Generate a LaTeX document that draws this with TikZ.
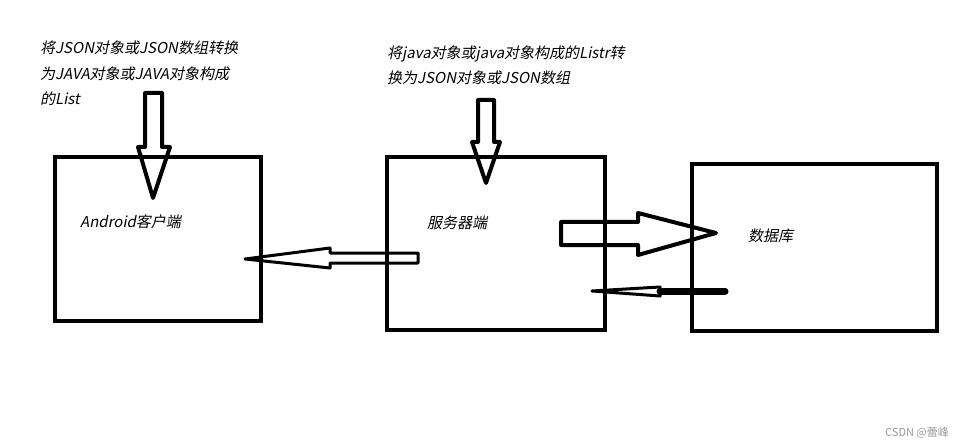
\documentclass[tikz,border=0pt]{standalone}
\usepackage{fontspec}
\setmainfont{Noto Sans CJK SC}[FakeSlant=0.2]
\newfontfamily\wmfont{Noto Sans CJK SC}
\usetikzlibrary{calc}

\begin{document}
\begin{tikzpicture}[x=1pt,y=-1pt]
      \tikzstyle{box}=[draw=black, line width=4pt, inner sep=0pt, anchor=center]
      \tikzstyle{label}=[inner sep=0pt, anchor=base west, align=left, font=\fontsize{15}{25.5}\selectfont]
      \tikzstyle{barrow}=[draw=black, line width=4pt, line join=round]
      \tikzstyle{watermark}=[inner sep=0pt, anchor=base west, text=black!40, font=\wmfont\fontsize{11}{13}\selectfont]
      \useasboundingbox (0,0) rectangle (968,446);

      \node[box, minimum width=206pt, minimum height=164pt] (client) at (158,239) {};
      \node[box, minimum width=218pt, minimum height=173pt] (server) at (496,243.5) {};
      \node[box, minimum width=245pt, minimum height=167pt] (db) at (814.5,247.5) {};

      \node[label] (t1) at (40,105) {将JSON对象或JSON数组转换\\为JAVA对象或JAVA对象构成\\的List};
      \node[label] (t2) at (387,84) {将java对象或java对象构成的Listr转\\换为JSON对象或JSON数组};
      \node[label] (clientlabel) at (80,228) {Android客户端};
      \node[label] (serverlabel) at (427,229) {服务器端};
      \node[label] (dblabel) at (748,241) {数据库};
      \node[watermark] (wm) at (885,436) {CSDN @蕾峰};

      \draw[barrow] (145,93) -- (162,93) -- (162,147) -- (170,147) -- (153,198) -- (138,147) -- (145,147) -- cycle;
      \draw[barrow] (478,100) -- (494,100) -- (494,142) -- (500,142) -- (486,183) -- (472,142) -- (478,142) -- cycle;
      \draw[barrow] (561,222) -- (638,222) -- (638,213) -- (716,233) -- (638,255) -- (638,245) -- (561,245) -- cycle;
      \draw[barrow, line width=3pt] (418,253) -- (330,253) -- (330,248) -- (245,259) -- (330,268) -- (330,263) -- (418,263) -- cycle;
      \draw[line width=7pt, line cap=round] (725,291) -- (660,291);
      \draw[barrow, line width=3pt] (660,287) -- (592,291) -- (660,296) -- cycle;
    \end{tikzpicture}
\end{document}
